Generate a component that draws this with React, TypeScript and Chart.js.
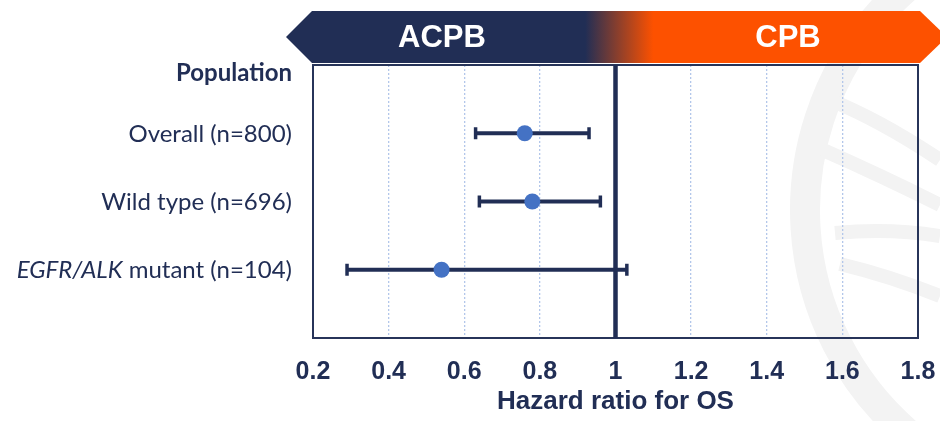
import React, { useEffect, useRef } from 'react';
import { Chart, registerables } from 'chart.js';

Chart.register(...registerables);

// Forest plot rows (top to bottom)
const populationLabels = ['Overall (n=800)', 'Wild type (n=696)', 'mutant (n=104)'];
const italicPrefixes = ['', '', 'EGFR/ALK'];
const hazardRatios = [0.76, 0.78, 0.54];
const ciLower = [0.63, 0.64, 0.29];
const ciUpper = [0.93, 0.96, 1.03];

const headerLabel = 'Population';
const axisTitle = 'Hazard ratio for OS';
const favourLeft = 'ACPB';
const favourRight = 'CPB';
const referenceHR = 1;
const xMin = 0.2;
const xMax = 1.8;
const xStep = 0.2;

const NAVY = '#212e55';
const ORANGE = '#fd5100';
const POINT_BLUE = '#4472c4';
const GRID_BLUE = '#b3c7ea';
const SANS = '"Liberation Sans", Arial, sans-serif';
const LABEL_FONT = 'Lato, "Noto Sans", sans-serif';

const backdropPlugin = {
  id: 'backdrop',
  beforeDraw(chart: any) {
    const { ctx } = chart;
    ctx.save();
    ctx.fillStyle = '#ffffff';
    ctx.fillRect(0, 0, chart.width, chart.height);
    // faint globe emblem on the right
    ctx.strokeStyle = '#f3f3f3';
    ctx.lineCap = 'butt';
    ctx.lineWidth = 30;
    ctx.beginPath();
    ctx.arc(1100, 210, 295, Math.PI * 0.6, Math.PI * 1.4);
    ctx.stroke();
    ctx.lineWidth = 14;
    const bands: number[][] = [
      [830, 100, 880, 120, 940, 160],
      [823, 150, 880, 175, 940, 205],
      [835, 233, 890, 228, 940, 236],
      [840, 264, 890, 276, 940, 296],
    ];
    bands.forEach(([x0, y0, cx, cy, x1, y1]) => {
      ctx.beginPath();
      ctx.moveTo(x0, y0);
      ctx.quadraticCurveTo(cx, cy, x1, y1);
      ctx.stroke();
    });
    ctx.restore();
  },
  beforeDatasetsDraw(chart: any) {
    const { ctx, chartArea } = chart;
    ctx.save();
    ctx.strokeStyle = '#273459';
    ctx.lineWidth = 2;
    ctx.strokeRect(chartArea.left, chartArea.top, chartArea.right - chartArea.left, chartArea.bottom - chartArea.top);
    ctx.restore();
  },
  afterDraw(chart: any) {
    const { ctx, chartArea, scales } = chart;
    const x = scales.x;
    const y = scales.y;
    const L = chartArea.left;
    const R = chartArea.right;
    const top = 11;
    const bot = 63;
    const mid = (top + bot) / 2;
    const head = bot - mid + 1;

    ctx.save();
    // double-headed banner naming the favoured arm
    const grad = ctx.createLinearGradient(x.getPixelForValue(0.92), 0, x.getPixelForValue(1.1), 0);
    grad.addColorStop(0, NAVY);
    grad.addColorStop(1, ORANGE);
    ctx.fillStyle = grad;
    ctx.beginPath();
    ctx.moveTo(L - head, mid);
    ctx.lineTo(L - 1, top);
    ctx.lineTo(R + 2, top);
    ctx.lineTo(R + 2 + head, mid);
    ctx.lineTo(R + 2, bot);
    ctx.lineTo(L - 1, bot);
    ctx.closePath();
    ctx.fill();

    ctx.fillStyle = '#ffffff';
    ctx.font = `bold 31px ${SANS}`;
    ctx.textAlign = 'center';
    ctx.textBaseline = 'middle';
    ctx.fillText(favourLeft, L + 129, mid + 1);
    ctx.fillText(favourRight, R - 130, mid + 1);

    // row labels to the left of the plot
    const rightEdge = L - 21;
    ctx.fillStyle = NAVY;
    ctx.textAlign = 'right';
    ctx.textBaseline = 'middle';
    ctx.font = `bold 24px ${LABEL_FONT}`;
    ctx.fillText(headerLabel, rightEdge, chartArea.top + 8);
    populationLabels.forEach((label, i) => {
      const py = y.getPixelForValue(i + 1) + 1;
      ctx.font = `24px ${LABEL_FONT}`;
      const text = italicPrefixes[i] ? ' ' + label : label;
      ctx.fillText(text, rightEdge, py);
      if (italicPrefixes[i]) {
        const w = ctx.measureText(text).width;
        ctx.font = `italic 24px ${LABEL_FONT}`;
        ctx.fillText(italicPrefixes[i], rightEdge - w, py);
      }
    });
    ctx.restore();
  },
};

const isEdgeOrReference = (v: number) =>
  Math.abs(v - xMin) < 1e-6 || Math.abs(v - xMax) < 1e-6 || Math.abs(v - referenceHR) < 1e-6;

export default function App() {
  const canvasRef = useRef<HTMLCanvasElement | null>(null);

  useEffect(() => {
    const canvas = canvasRef.current;
    if (!canvas) return;

    const errorBars = hazardRatios.map((_, i) => ({
      type: 'line' as const,
      data: [
        { x: ciLower[i], y: i + 1 },
        { x: ciUpper[i], y: i + 1 },
      ],
      showLine: true,
      borderColor: NAVY,
      borderWidth: 4,
      pointStyle: 'line' as const,
      pointRotation: 90,
      pointRadius: 6,
      pointBorderWidth: 3.5,
      pointBorderColor: NAVY,
      pointBackgroundColor: NAVY,
    }));

    const chart = new Chart(canvas, {
      type: 'scatter',
      data: {
        datasets: [
          {
            type: 'scatter',
            data: hazardRatios.map((hr, i) => ({ x: hr, y: i + 1 })),
            backgroundColor: POINT_BLUE,
            borderWidth: 0,
            pointRadius: 8,
          },
          ...errorBars,
          {
            type: 'line',
            data: [
              { x: referenceHR, y: 0 },
              { x: referenceHR, y: 4 },
            ],
            showLine: true,
            borderColor: NAVY,
            borderWidth: 4.5,
            pointRadius: 0,
          },
        ] as any,
      },
      options: {
        responsive: false,
        animation: false,
        devicePixelRatio: 1,
        layout: { padding: { left: 313, right: 22, top: 65, bottom: 0 } },
        plugins: {
          legend: { display: false },
          tooltip: { enabled: false },
        },
        scales: {
          x: {
            type: 'linear',
            min: xMin,
            max: xMax,
            afterFit: (scale: any) => {
              scale.height = 83;
              scale.paddingLeft = 0;
              scale.paddingRight = 0;
            },
            ticks: {
              stepSize: xStep,
              color: NAVY,
              padding: 19,
              font: { family: SANS, size: 25, weight: 'bold' },
              callback: (v: any) => {
                const n = Math.round(Number(v) * 10) / 10;
                return Number.isInteger(n) ? String(n) : n.toFixed(1);
              },
            },
            grid: {
              drawTicks: false,
              lineWidth: 1.3,
              color: (ctx: any) => (ctx.tick && isEdgeOrReference(ctx.tick.value) ? 'rgba(0,0,0,0)' : GRID_BLUE),
            },
            border: { display: false, dash: [2, 2] },
            title: {
              display: true,
              text: axisTitle,
              color: NAVY,
              font: { family: SANS, size: 26, weight: 'bold', lineHeight: 1 },
              padding: { top: 0, bottom: 6 },
            },
          },
          y: {
            type: 'linear',
            display: false,
            min: 0,
            max: 4,
            reverse: true,
          },
        },
      } as any,
      plugins: [backdropPlugin],
    });

    return () => chart.destroy();
  }, []);

  return (
    <div style={{ position: 'fixed', left: 0, top: 0, width: 940, height: 421, overflow: 'hidden', background: '#fff' }}>
      <canvas ref={canvasRef} width={940} height={421} style={{ display: 'block', width: 940, height: 421 }} />
    </div>
  );
}
